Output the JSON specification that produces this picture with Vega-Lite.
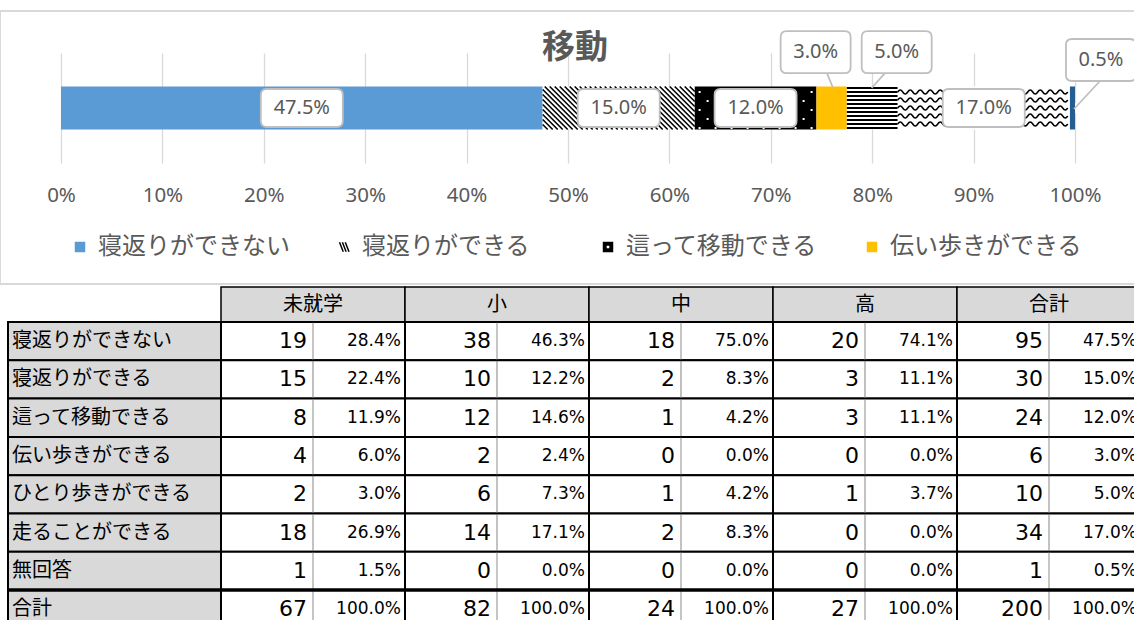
{
  "$schema": "https://vega.github.io/schema/vega-lite/v6.json",
  "width": 1134,
  "height": 620,
  "padding": 0,
  "autosize": {"type": "none"},
  "background": "white",
  "config": {"view": {"stroke": null}, "font": "Noto Sans CJK JP"},
  "title": {"text": "移動", "font": "Noto Sans CJK JP", "fontSize": 33, "fontWeight": "bold", "color": "#595959", "anchor": "middle", "frame": "group", "offset": 0, "dy": 65, "dx": 8},
  "datasets": {
    "t": [
      {"row": "寝返りができない", "ri": 1, "group": "未就学", "n": 19, "p": 0.284},
      {"row": "寝返りができない", "ri": 1, "group": "小", "n": 38, "p": 0.463},
      {"row": "寝返りができない", "ri": 1, "group": "中", "n": 18, "p": 0.75},
      {"row": "寝返りができない", "ri": 1, "group": "高", "n": 20, "p": 0.741},
      {"row": "寝返りができない", "ri": 1, "group": "合計", "n": 95, "p": 0.475},
      {"row": "寝返りができる", "ri": 2, "group": "未就学", "n": 15, "p": 0.224},
      {"row": "寝返りができる", "ri": 2, "group": "小", "n": 10, "p": 0.122},
      {"row": "寝返りができる", "ri": 2, "group": "中", "n": 2, "p": 0.083},
      {"row": "寝返りができる", "ri": 2, "group": "高", "n": 3, "p": 0.111},
      {"row": "寝返りができる", "ri": 2, "group": "合計", "n": 30, "p": 0.15},
      {"row": "這って移動できる", "ri": 3, "group": "未就学", "n": 8, "p": 0.119},
      {"row": "這って移動できる", "ri": 3, "group": "小", "n": 12, "p": 0.146},
      {"row": "這って移動できる", "ri": 3, "group": "中", "n": 1, "p": 0.042},
      {"row": "這って移動できる", "ri": 3, "group": "高", "n": 3, "p": 0.111},
      {"row": "這って移動できる", "ri": 3, "group": "合計", "n": 24, "p": 0.12},
      {"row": "伝い歩きができる", "ri": 4, "group": "未就学", "n": 4, "p": 0.06},
      {"row": "伝い歩きができる", "ri": 4, "group": "小", "n": 2, "p": 0.024},
      {"row": "伝い歩きができる", "ri": 4, "group": "中", "n": 0, "p": 0},
      {"row": "伝い歩きができる", "ri": 4, "group": "高", "n": 0, "p": 0},
      {"row": "伝い歩きができる", "ri": 4, "group": "合計", "n": 6, "p": 0.03},
      {"row": "ひとり歩きができる", "ri": 5, "group": "未就学", "n": 2, "p": 0.03},
      {"row": "ひとり歩きができる", "ri": 5, "group": "小", "n": 6, "p": 0.073},
      {"row": "ひとり歩きができる", "ri": 5, "group": "中", "n": 1, "p": 0.042},
      {"row": "ひとり歩きができる", "ri": 5, "group": "高", "n": 1, "p": 0.037},
      {"row": "ひとり歩きができる", "ri": 5, "group": "合計", "n": 10, "p": 0.05},
      {"row": "走ることができる", "ri": 6, "group": "未就学", "n": 18, "p": 0.269},
      {"row": "走ることができる", "ri": 6, "group": "小", "n": 14, "p": 0.171},
      {"row": "走ることができる", "ri": 6, "group": "中", "n": 2, "p": 0.083},
      {"row": "走ることができる", "ri": 6, "group": "高", "n": 0, "p": 0},
      {"row": "走ることができる", "ri": 6, "group": "合計", "n": 34, "p": 0.17},
      {"row": "無回答", "ri": 7, "group": "未就学", "n": 1, "p": 0.015},
      {"row": "無回答", "ri": 7, "group": "小", "n": 0, "p": 0},
      {"row": "無回答", "ri": 7, "group": "中", "n": 0, "p": 0},
      {"row": "無回答", "ri": 7, "group": "高", "n": 0, "p": 0},
      {"row": "無回答", "ri": 7, "group": "合計", "n": 1, "p": 0.005},
      {"row": "合計", "ri": 8, "group": "未就学", "n": 67, "p": 1},
      {"row": "合計", "ri": 8, "group": "小", "n": 82, "p": 1},
      {"row": "合計", "ri": 8, "group": "中", "n": 24, "p": 1},
      {"row": "合計", "ri": 8, "group": "高", "n": 27, "p": 1},
      {"row": "合計", "ri": 8, "group": "合計", "n": 200, "p": 1}
    ]
  },
  "data": {"name": "t"},
  "resolve": {"scale": {"x": "independent", "y": "independent"}},
  "layer": [
    {
      "transform": [{"filter": "datum.group === '合計' && datum.row === '合計'"}],
      "mark": {"type": "rect", "filled": false, "stroke": "#d9d9d9", "strokeWidth": 2, "xOffset": 8},
      "encoding": {
        "y": {"field": "group", "type": "nominal", "scale": {"range": [11, 284], "paddingInner": 0, "paddingOuter": 0}, "axis": null}
      }
    },
    {
      "transform": [{"filter": "datum.group === '合計' && datum.row !== '合計'"}],
      "layer": [
        {
          "mark": {"type": "point", "filled": true, "opacity": 1, "size": 100, "strokeWidth": 0},
          "encoding": {
            "x": {"field": "p", "type": "quantitative", "stack": "zero", "bandPosition": 0.5, "scale": {"domain": [0, 1], "range": [61, 1075]}},
            "y": {"field": "group", "type": "nominal", "scale": {"range": [53, 163], "paddingInner": 0, "paddingOuter": 0.779}, "axis": null},
            "order": {"field": "ri", "type": "quantitative"},
            "color": {"field": "row", "type": "nominal",
              "scale": {"domain": ["寝返りができない", "寝返りができる", "這って移動できる", "伝い歩きができる", "ひとり歩きができる", "走ることができる", "無回答"],
                        "range": ["#5B9BD5", "#000000", "#000000", "#FFC000", "#000000", "#000000", "#FFFFFF"]},
              "legend": {"values": ["寝返りができない", "寝返りができる", "這って移動できる", "伝い歩きができる"], "title": null, "orient": "none", "legendX": 68, "legendY": 235, "direction": "horizontal", "columns": 4, "gridAlign": "all", "columnPadding": 42, "labelFont": "Noto Sans CJK JP", "labelFontSize": 24, "labelColor": "#595959", "labelLimit": 500, "labelOffset": 6, "symbolSize": 110, "symbolStrokeWidth": 0}},
            "shape": {"field": "row", "type": "nominal",
              "scale": {"domain": ["寝返りができない", "寝返りができる", "這って移動できる", "伝い歩きができる", "ひとり歩きができる", "走ることができる", "無回答"],
                        "range": ["square", "M-1,-0.9L-0.7,-0.9L0,0.9L-0.3,0.9ZM-0.45,-0.9L-0.15,-0.9L0.55,0.9L0.25,0.9ZM0.1,-0.9L0.4,-0.9L1.1,0.9L0.8,0.9Z", "M-1,-1L1,-1L1,1L-1,1ZM-0.25,-0.25L-0.25,0.25L0.25,0.25L0.25,-0.25Z", "square", "square", "square", "square"]},
              "legend": {"values": ["寝返りができない", "寝返りができる", "這って移動できる", "伝い歩きができる"], "title": null, "orient": "none", "legendX": 68, "legendY": 235, "direction": "horizontal", "columns": 4, "gridAlign": "all", "columnPadding": 42, "labelFont": "Noto Sans CJK JP", "labelFontSize": 24, "labelColor": "#595959", "labelLimit": 500, "labelOffset": 6, "symbolSize": 110, "symbolStrokeWidth": 0}}
          }
        },
        {
          "mark": {"type": "bar", "strokeWidth": 0},
          "encoding": {
            "x": {"field": "p", "type": "quantitative", "stack": "zero", "scale": {"domain": [0, 1], "range": [61, 1075]},
              "axis": {"orient": "top", "offset": 0, "grid": true, "gridColor": "#d9d9d9", "gridWidth": 1.3, "domain": false, "ticks": false, "tickSize": 0, "labelPadding": -195, "labelBaseline": "middle", "labelFlush": false, "labelOverlap": false, "values": [0, 0.1, 0.2, 0.3, 0.4, 0.5, 0.6, 0.7, 0.8, 0.9, 1], "format": ".0%", "labelFont": "Noto Sans", "labelFontSize": 20.5, "labelColor": "#595959", "title": null}},
            "y": {"field": "group", "type": "nominal", "scale": {"range": [53, 163], "paddingInner": 0, "paddingOuter": 0.779}, "axis": null},
            "order": {"field": "ri", "type": "quantitative"},
            "fill": {"field": "row", "type": "nominal",
              "scale": {"domain": ["寝返りができない", "寝返りができる", "這って移動できる", "伝い歩きができる", "ひとり歩きができる", "走ることができる", "無回答"],
                        "range": ["#5B9BD5", "#FFFFFF", "#000000", "#FFC000", "#FFFFFF", "#FFFFFF", "#255E91"]},
              "legend": null}
          }
        },
        {
          "mark": {"type": "point", "size": 4, "filled": false, "stroke": "#000000", "strokeWidth": 1.6,
            "shape": "M-76,16.5l5,5M-76,11.5l10,10M-76,6.5l15,15M-76,1.5l20,20M-76,-3.5l25,25M-76,-8.5l30,30M-76,-13.5l35,35M-76,-18.5l40,40M-74,-21.5l43,43M-69,-21.5l43,43M-64,-21.5l43,43M-59,-21.5l43,43M-54,-21.5l43,43M-49,-21.5l43,43M-44,-21.5l43,43M-39,-21.5l43,43M-34,-21.5l43,43M-29,-21.5l43,43M-24,-21.5l43,43M-19,-21.5l43,43M-14,-21.5l43,43M-9,-21.5l43,43M-4,-21.5l43,43M1,-21.5l43,43M6,-21.5l43,43M11,-21.5l43,43M16,-21.5l43,43M21,-21.5l43,43M26,-21.5l43,43M31,-21.5l43,43M36,-21.5l40,40M41,-21.5l35,35M46,-21.5l30,30M51,-21.5l25,25M56,-21.5l20,20M61,-21.5l15,15M66,-21.5l10,10M71,-21.5l5,5"},
          "encoding": {
            "x": {"field": "p", "type": "quantitative", "stack": "zero", "bandPosition": 0.5, "scale": {"domain": [0, 1], "range": [61, 1075]}},
            "y": {"field": "group", "type": "nominal", "scale": {"range": [53, 163], "paddingInner": 0, "paddingOuter": 0.779}, "axis": null},
            "order": {"field": "ri", "type": "quantitative"},
            "detail": {"field": "row"},
            "opacity": {"condition": {"test": "datum.row === '寝返りができる'", "value": 1}, "value": 0}
          }
        },
        {
          "mark": {"type": "point", "size": 4, "filled": true, "fill": "#FFFFFF", "strokeWidth": 0,
            "shape": "M-57,-17h2v2h-2zM-57,1h2v2h-2zM-57,19h2v2h-2zM-41,-17h2v2h-2zM-41,1h2v2h-2zM-41,19h2v2h-2zM-25,-17h2v2h-2zM-25,1h2v2h-2zM-25,19h2v2h-2zM-9,-17h2v2h-2zM-9,1h2v2h-2zM-9,19h2v2h-2zM7,-17h2v2h-2zM7,1h2v2h-2zM7,19h2v2h-2zM23,-17h2v2h-2zM23,1h2v2h-2zM23,19h2v2h-2zM39,-17h2v2h-2zM39,1h2v2h-2zM39,19h2v2h-2zM55,-17h2v2h-2zM55,1h2v2h-2zM55,19h2v2h-2zM-49,-8h2v2h-2zM-49,10h2v2h-2zM-33,-8h2v2h-2zM-33,10h2v2h-2zM-17,-8h2v2h-2zM-17,10h2v2h-2zM-1,-8h2v2h-2zM-1,10h2v2h-2zM15,-8h2v2h-2zM15,10h2v2h-2zM31,-8h2v2h-2zM31,10h2v2h-2zM47,-8h2v2h-2zM47,10h2v2h-2z"},
          "encoding": {
            "x": {"field": "p", "type": "quantitative", "stack": "zero", "bandPosition": 0.5, "scale": {"domain": [0, 1], "range": [61, 1075]}},
            "y": {"field": "group", "type": "nominal", "scale": {"range": [53, 163], "paddingInner": 0, "paddingOuter": 0.779}, "axis": null},
            "order": {"field": "ri", "type": "quantitative"},
            "detail": {"field": "row"},
            "opacity": {"condition": {"test": "datum.row === '這って移動できる'", "value": 1}, "value": 0}
          }
        },
        {
          "mark": {"type": "point", "size": 4, "filled": false, "stroke": "#000000", "strokeWidth": 2,
            "shape": "M-25.35,-20H25.35M-25.35,-16H25.35M-25.35,-12H25.35M-25.35,-8H25.35M-25.35,-4H25.35M-25.35,0H25.35M-25.35,4H25.35M-25.35,8H25.35M-25.35,12H25.35M-25.35,16H25.35M-25.35,20H25.35"},
          "encoding": {
            "x": {"field": "p", "type": "quantitative", "stack": "zero", "bandPosition": 0.5, "scale": {"domain": [0, 1], "range": [61, 1075]}},
            "y": {"field": "group", "type": "nominal", "scale": {"range": [53, 163], "paddingInner": 0, "paddingOuter": 0.779}, "axis": null},
            "order": {"field": "ri", "type": "quantitative"},
            "detail": {"field": "row"},
            "opacity": {"condition": {"test": "datum.row === 'ひとり歩きができる'", "value": 1}, "value": 0}
          }
        },
        {
          "mark": {"type": "point", "size": 4, "filled": false, "stroke": "#000000", "strokeWidth": 1.5,
            "shape": "M-86,-16q2.5,-4 5,0t5,0t5,0t5,0t5,0t5,0t5,0t5,0t5,0t5,0t5,0t5,0t5,0t5,0t5,0t5,0t5,0t5,0t5,0t5,0t5,0t5,0t5,0t5,0t5,0t5,0t5,0t5,0t5,0t5,0t5,0t5,0t5,0t5,0M-86,-8q2.5,-4 5,0t5,0t5,0t5,0t5,0t5,0t5,0t5,0t5,0t5,0t5,0t5,0t5,0t5,0t5,0t5,0t5,0t5,0t5,0t5,0t5,0t5,0t5,0t5,0t5,0t5,0t5,0t5,0t5,0t5,0t5,0t5,0t5,0t5,0M-86,0q2.5,-4 5,0t5,0t5,0t5,0t5,0t5,0t5,0t5,0t5,0t5,0t5,0t5,0t5,0t5,0t5,0t5,0t5,0t5,0t5,0t5,0t5,0t5,0t5,0t5,0t5,0t5,0t5,0t5,0t5,0t5,0t5,0t5,0t5,0t5,0M-86,8q2.5,-4 5,0t5,0t5,0t5,0t5,0t5,0t5,0t5,0t5,0t5,0t5,0t5,0t5,0t5,0t5,0t5,0t5,0t5,0t5,0t5,0t5,0t5,0t5,0t5,0t5,0t5,0t5,0t5,0t5,0t5,0t5,0t5,0t5,0t5,0M-86,16q2.5,-4 5,0t5,0t5,0t5,0t5,0t5,0t5,0t5,0t5,0t5,0t5,0t5,0t5,0t5,0t5,0t5,0t5,0t5,0t5,0t5,0t5,0t5,0t5,0t5,0t5,0t5,0t5,0t5,0t5,0t5,0t5,0t5,0t5,0t5,0"},
          "encoding": {
            "x": {"field": "p", "type": "quantitative", "stack": "zero", "bandPosition": 0.5, "scale": {"domain": [0, 1], "range": [61, 1075]}},
            "y": {"field": "group", "type": "nominal", "scale": {"range": [53, 163], "paddingInner": 0, "paddingOuter": 0.779}, "axis": null},
            "order": {"field": "ri", "type": "quantitative"},
            "detail": {"field": "row"},
            "opacity": {"condition": {"test": "datum.row === '走ることができる'", "value": 1}, "value": 0}
          }
        },
        {
          "mark": {"type": "point", "size": 4, "filled": true, "fill": "#FFFFFF", "stroke": "#BFBFBF", "strokeWidth": 1.8,
            "shape": "M-35,-19H35Q41,-19 41,-13V13Q41,19 35,19H-35Q-41,19 -41,13V-13Q-41,-19 -35,-19Z"},
          "encoding": {
            "x": {"field": "p", "type": "quantitative", "stack": "zero", "bandPosition": 0.5, "scale": {"domain": [0, 1], "range": [61, 1075]}},
            "y": {"field": "group", "type": "nominal", "scale": {"range": [53, 163], "paddingInner": 0, "paddingOuter": 0.779}, "axis": null},
            "order": {"field": "ri", "type": "quantitative"},
            "detail": {"field": "row"},
            "opacity": {"condition": {"test": "datum.p >= 0.1", "value": 1}, "value": 0}
          }
        },
        {
          "mark": {"type": "text", "font": "Noto Sans", "fontSize": 20, "color": "#595959", "baseline": "middle"},
          "encoding": {
            "x": {"field": "p", "type": "quantitative", "stack": "zero", "bandPosition": 0.5, "scale": {"domain": [0, 1], "range": [61, 1075]}},
            "y": {"field": "group", "type": "nominal", "scale": {"range": [53, 163], "paddingInner": 0, "paddingOuter": 0.779}, "axis": null},
            "order": {"field": "ri", "type": "quantitative"},
            "detail": {"field": "row"},
            "text": {"field": "p", "type": "quantitative", "format": ".1%"},
            "opacity": {"condition": {"test": "datum.p >= 0.1", "value": 1}, "value": 0}
          }
        },
        {
          "mark": {"type": "point", "size": 4, "filled": true, "fill": "#FFFFFF", "stroke": "#BFBFBF", "strokeWidth": 1.8, "xOffset": -16, "yOffset": -55.8,
            "shape": "M-29,-21H29Q35,-21 35,-15V15Q35,21 29,21H-29Q-35,21 -35,15V-15Q-35,-21 -29,-21ZM11.35,21L17.35,35.8"},
          "encoding": {
            "x": {"field": "p", "type": "quantitative", "stack": "zero", "bandPosition": 0.5, "scale": {"domain": [0, 1], "range": [61, 1075]}},
            "y": {"field": "group", "type": "nominal", "scale": {"range": [53, 163], "paddingInner": 0, "paddingOuter": 0.779}, "axis": null},
            "order": {"field": "ri", "type": "quantitative"},
            "detail": {"field": "row"},
            "opacity": {"condition": {"test": "datum.row === '伝い歩きができる'", "value": 1}, "value": 0}
          }
        },
        {
          "mark": {"type": "text", "font": "Noto Sans", "fontSize": 20, "color": "#595959", "baseline": "middle", "xOffset": -16, "yOffset": -55.8},
          "encoding": {
            "x": {"field": "p", "type": "quantitative", "stack": "zero", "bandPosition": 0.5, "scale": {"domain": [0, 1], "range": [61, 1075]}},
            "y": {"field": "group", "type": "nominal", "scale": {"range": [53, 163], "paddingInner": 0, "paddingOuter": 0.779}, "axis": null},
            "order": {"field": "ri", "type": "quantitative"},
            "detail": {"field": "row"},
            "text": {"field": "p", "type": "quantitative", "format": ".1%"},
            "opacity": {"condition": {"test": "datum.row === '伝い歩きができる'", "value": 1}, "value": 0}
          }
        },
        {
          "mark": {"type": "point", "size": 4, "filled": true, "fill": "#FFFFFF", "stroke": "#BFBFBF", "strokeWidth": 1.8, "xOffset": 24.5, "yOffset": -55.8,
            "shape": "M-29,-21H29Q35,-21 35,-15V15Q35,21 29,21H-29Q-35,21 -35,15V-15Q-35,-21 -29,-21ZM-11.75,21L-25.05,35.8"},
          "encoding": {
            "x": {"field": "p", "type": "quantitative", "stack": "zero", "bandPosition": 0.5, "scale": {"domain": [0, 1], "range": [61, 1075]}},
            "y": {"field": "group", "type": "nominal", "scale": {"range": [53, 163], "paddingInner": 0, "paddingOuter": 0.779}, "axis": null},
            "order": {"field": "ri", "type": "quantitative"},
            "detail": {"field": "row"},
            "opacity": {"condition": {"test": "datum.row === 'ひとり歩きができる'", "value": 1}, "value": 0}
          }
        },
        {
          "mark": {"type": "text", "font": "Noto Sans", "fontSize": 20, "color": "#595959", "baseline": "middle", "xOffset": 24.5, "yOffset": -55.8},
          "encoding": {
            "x": {"field": "p", "type": "quantitative", "stack": "zero", "bandPosition": 0.5, "scale": {"domain": [0, 1], "range": [61, 1075]}},
            "y": {"field": "group", "type": "nominal", "scale": {"range": [53, 163], "paddingInner": 0, "paddingOuter": 0.779}, "axis": null},
            "order": {"field": "ri", "type": "quantitative"},
            "detail": {"field": "row"},
            "text": {"field": "p", "type": "quantitative", "format": ".1%"},
            "opacity": {"condition": {"test": "datum.row === 'ひとり歩きができる'", "value": 1}, "value": 0}
          }
        },
        {
          "mark": {"type": "point", "size": 4, "filled": true, "fill": "#FFFFFF", "stroke": "#BFBFBF", "strokeWidth": 1.8, "xOffset": 28.5, "yOffset": -48,
            "shape": "M-29,-21H29Q35,-21 35,-15V15Q35,21 29,21H-29Q-35,21 -35,15V-15Q-35,-21 -29,-21ZM-1,21L-27,49"},
          "encoding": {
            "x": {"field": "p", "type": "quantitative", "stack": "zero", "bandPosition": 0.5, "scale": {"domain": [0, 1], "range": [61, 1075]}},
            "y": {"field": "group", "type": "nominal", "scale": {"range": [53, 163], "paddingInner": 0, "paddingOuter": 0.779}, "axis": null},
            "order": {"field": "ri", "type": "quantitative"},
            "detail": {"field": "row"},
            "opacity": {"condition": {"test": "datum.row === '無回答'", "value": 1}, "value": 0}
          }
        },
        {
          "mark": {"type": "text", "font": "Noto Sans", "fontSize": 20, "color": "#595959", "baseline": "middle", "xOffset": 28.5, "yOffset": -48},
          "encoding": {
            "x": {"field": "p", "type": "quantitative", "stack": "zero", "bandPosition": 0.5, "scale": {"domain": [0, 1], "range": [61, 1075]}},
            "y": {"field": "group", "type": "nominal", "scale": {"range": [53, 163], "paddingInner": 0, "paddingOuter": 0.779}, "axis": null},
            "order": {"field": "ri", "type": "quantitative"},
            "detail": {"field": "row"},
            "text": {"field": "p", "type": "quantitative", "format": ".1%"},
            "opacity": {"condition": {"test": "datum.row === '無回答'", "value": 1}, "value": 0}
          }
        }
      ]
    },
    {
      "transform": [{"filter": "datum.row === '寝返りができない'"}],
      "layer": [
        {
          "mark": {"type": "rect", "fill": "#D9D9D9", "stroke": "#000000", "strokeWidth": 1.5},
          "encoding": {
            "x": {"field": "group", "type": "nominal", "sort": null, "scale": {"domain": ["未就学", "小", "中", "高", "合計"], "range": [221, 1141], "paddingInner": 0, "paddingOuter": 0}, "axis": null},
            "y": {"field": "row", "type": "nominal", "scale": {"range": [287, 322], "paddingInner": 0, "paddingOuter": 0}, "axis": null}
          }
        },
        {
          "mark": {"type": "text", "font": "Noto Sans CJK JP", "fontSize": 20, "color": "#000000", "baseline": "middle"},
          "encoding": {
            "x": {"field": "group", "type": "nominal", "sort": null, "scale": {"domain": ["未就学", "小", "中", "高", "合計"], "range": [221, 1141], "paddingInner": 0, "paddingOuter": 0}, "axis": null},
            "y": {"field": "row", "type": "nominal", "scale": {"range": [287, 322], "paddingInner": 0, "paddingOuter": 0}, "axis": null},
            "text": {"field": "group"}
          }
        }
      ]
    },
    {
      "layer": [
        {
          "mark": {"type": "rect", "fill": "#FFFFFF", "stroke": "#000000", "strokeWidth": 2},
          "encoding": {
            "x": {"field": "group", "type": "nominal", "scale": {"domain": ["未就学", "小", "中", "高", "合計"], "range": [221, 1141], "paddingInner": 0, "paddingOuter": 0}, "axis": null},
            "y": {"field": "row", "type": "nominal", "scale": {"domain": ["寝返りができない", "寝返りができる", "這って移動できる", "伝い歩きができる", "ひとり歩きができる", "走ることができる", "無回答", "合計"], "range": [322, 628.4], "paddingInner": 0, "paddingOuter": 0}, "axis": null}
          }
        },
        {
          "mark": {"type": "tick", "orient": "vertical", "thickness": 0.01, "filled": false, "stroke": "#7F7F7F", "strokeWidth": 1, "strokeDash": [1, 1], "opacity": 1},
          "encoding": {
            "x": {"field": "group", "type": "nominal", "bandPosition": 0.5, "scale": {"domain": ["未就学", "小", "中", "高", "合計"], "range": [221, 1141], "paddingInner": 0, "paddingOuter": 0}, "axis": null},
            "y": {"field": "row", "type": "nominal", "scale": {"domain": ["寝返りができない", "寝返りができる", "這って移動できる", "伝い歩きができる", "ひとり歩きができる", "走ることができる", "無回答", "合計"], "range": [322, 628.4], "paddingInner": 0, "paddingOuter": 0}, "axis": null},
            "size": {"value": 37}
          }
        },
        {
          "mark": {"type": "text", "align": "right", "baseline": "middle", "font": "DejaVu Sans", "fontSize": 22, "color": "#000000"},
          "encoding": {
            "x": {"field": "group", "type": "nominal", "bandPosition": 0.467, "scale": {"domain": ["未就学", "小", "中", "高", "合計"], "range": [221, 1141], "paddingInner": 0, "paddingOuter": 0}, "axis": null},
            "y": {"field": "row", "type": "nominal", "scale": {"domain": ["寝返りができない", "寝返りができる", "這って移動できる", "伝い歩きができる", "ひとり歩きができる", "走ることができる", "無回答", "合計"], "range": [322, 628.4], "paddingInner": 0, "paddingOuter": 0}, "axis": null},
            "text": {"field": "n", "type": "quantitative"}
          }
        },
        {
          "mark": {"type": "text", "align": "right", "baseline": "middle", "font": "DejaVu Sans", "fontSize": 17, "color": "#000000"},
          "encoding": {
            "x": {"field": "group", "type": "nominal", "bandPosition": 0.978, "scale": {"domain": ["未就学", "小", "中", "高", "合計"], "range": [221, 1141], "paddingInner": 0, "paddingOuter": 0}, "axis": null},
            "y": {"field": "row", "type": "nominal", "scale": {"domain": ["寝返りができない", "寝返りができる", "這って移動できる", "伝い歩きができる", "ひとり歩きができる", "走ることができる", "無回答", "合計"], "range": [322, 628.4], "paddingInner": 0, "paddingOuter": 0}, "axis": null},
            "text": {"field": "p", "type": "quantitative", "format": ".1%"}
          }
        },
        {
          "transform": [{"filter": "datum.row === '合計'"}],
          "mark": {"type": "tick", "orient": "horizontal", "thickness": 3.5, "color": "#000000", "opacity": 1},
          "encoding": {
            "x": {"field": "group", "type": "nominal", "bandPosition": 0.5, "scale": {"domain": ["未就学", "小", "中", "高", "合計"], "range": [221, 1141], "paddingInner": 0, "paddingOuter": 0}, "axis": null},
            "y": {"field": "row", "type": "nominal", "bandPosition": 0, "scale": {"domain": ["寝返りができない", "寝返りができる", "這って移動できる", "伝い歩きができる", "ひとり歩きができる", "走ることができる", "無回答", "合計"], "range": [322, 628.4], "paddingInner": 0, "paddingOuter": 0}, "axis": null},
            "size": {"value": 184}
          }
        }
      ]
    },
    {
      "transform": [{"filter": "datum.group === '合計'"}],
      "layer": [
        {
          "mark": {"type": "rect", "fill": "#D9D9D9", "stroke": "#000000", "strokeWidth": 2},
          "encoding": {
            "x": {"field": "group", "type": "nominal", "scale": {"range": [8, 221], "paddingInner": 0, "paddingOuter": 0}, "axis": null},
            "y": {"field": "row", "type": "nominal", "scale": {"domain": ["寝返りができない", "寝返りができる", "這って移動できる", "伝い歩きができる", "ひとり歩きができる", "走ることができる", "無回答", "合計"], "range": [322, 628.4], "paddingInner": 0, "paddingOuter": 0}, "axis": null}
          }
        },
        {
          "mark": {"type": "text", "align": "left", "baseline": "middle", "dx": 4, "font": "Noto Sans CJK JP", "fontSize": 20, "color": "#000000"},
          "encoding": {
            "x": {"field": "group", "type": "nominal", "bandPosition": 0, "scale": {"range": [8, 221], "paddingInner": 0, "paddingOuter": 0}, "axis": null},
            "y": {"field": "row", "type": "nominal", "scale": {"domain": ["寝返りができない", "寝返りができる", "這って移動できる", "伝い歩きができる", "ひとり歩きができる", "走ることができる", "無回答", "合計"], "range": [322, 628.4], "paddingInner": 0, "paddingOuter": 0}, "axis": null},
            "text": {"field": "row"}
          }
        },
        {
          "transform": [{"filter": "datum.row === '合計'"}],
          "mark": {"type": "tick", "orient": "horizontal", "thickness": 3.5, "color": "#000000", "opacity": 1},
          "encoding": {
            "x": {"field": "group", "type": "nominal", "bandPosition": 0.5, "scale": {"range": [8, 221], "paddingInner": 0, "paddingOuter": 0}, "axis": null},
            "y": {"field": "row", "type": "nominal", "bandPosition": 0, "scale": {"domain": ["寝返りができない", "寝返りができる", "這って移動できる", "伝い歩きができる", "ひとり歩きができる", "走ることができる", "無回答", "合計"], "range": [322, 628.4], "paddingInner": 0, "paddingOuter": 0}, "axis": null},
            "size": {"value": 213}
          }
        }
      ]
    }
  ]
}
